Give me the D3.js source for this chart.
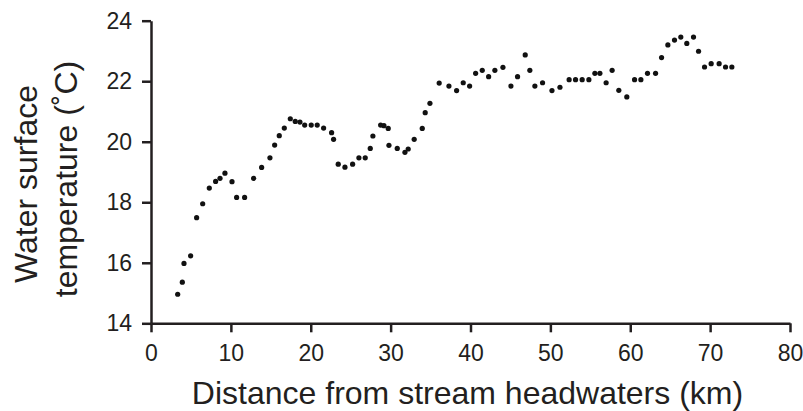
<!DOCTYPE html>
<html>
<head>
<meta charset="utf-8">
<script src="https://cdnjs.cloudflare.com/ajax/libs/d3/7.8.5/d3.min.js"></script>
<style>
  body { margin: 0; background: #fff; }
  text { font-family: "Liberation Sans", Arial, sans-serif; fill: #231f20; }
</style>
</head>
<body>
<div id="chart"></div>
<script>
// distance along the stream (km)
var distanceKm = [3.34, 3.92, 4.13, 4.96, 5.71, 6.47, 7.30, 8.09, 8.64, 9.26,
  10.14, 10.72, 11.72, 12.85, 13.85, 14.89, 15.48, 16.06, 16.69, 17.44,
  18.06, 18.65, 19.24, 20.06, 20.81, 21.61, 22.61, 22.86, 23.44, 24.28,
  25.24, 26.03, 26.82, 27.45, 27.78, 28.75, 29.16, 29.70, 29.79, 30.83,
  31.79, 32.20, 32.95, 33.96, 34.33, 34.92, 36.08, 37.30, 38.26, 39.09,
  39.89, 40.64, 41.47, 42.27, 43.05, 44.06, 45.06, 45.89, 46.85, 47.43,
  48.06, 49.02, 50.20, 51.20, 52.35, 53.15, 53.98, 54.82, 55.57, 56.20,
  56.98, 57.73, 58.57, 59.57, 60.54, 61.33, 62.16, 63.17, 63.92, 64.71,
  65.54, 66.33, 67.08, 67.92, 68.55, 69.30, 70.13, 71.13, 71.93, 72.72];

// water surface temperature (deg C)
var tempC = [14.96, 15.36, 15.98, 16.23, 17.49, 17.95, 18.47, 18.69, 18.79, 18.96,
  18.68, 18.16, 18.16, 18.79, 19.15, 19.47, 19.89, 20.20, 20.45, 20.76,
  20.67, 20.65, 20.55, 20.55, 20.55, 20.45, 20.30, 20.08, 19.26, 19.16,
  19.26, 19.47, 19.47, 19.78, 20.19, 20.55, 20.53, 20.44, 19.88, 19.78,
  19.65, 19.76, 20.08, 20.44, 20.96, 21.27, 21.94, 21.84, 21.69, 21.95,
  21.84, 22.26, 22.36, 22.15, 22.36, 22.46, 21.84, 22.15, 22.87, 22.36,
  21.84, 21.95, 21.69, 21.80, 22.05, 22.05, 22.05, 22.05, 22.26, 22.26,
  21.95, 22.36, 21.70, 21.48, 22.05, 22.05, 22.26, 22.26, 22.78, 23.20,
  23.36, 23.46, 23.25, 23.46, 22.99, 22.47, 22.58, 22.58, 22.47, 22.47];

var xTicks = [0, 10, 20, 30, 40, 50, 60, 70, 80];
var yTicks = [14, 16, 18, 20, 22, 24];

var W = 803, H = 411;
var x0 = 151, x1 = 790, yTop = 20.7, yBot = 323.3;

var svg = d3.select("#chart").append("svg")
  .attr("width", W)
  .attr("height", H);

var xScale = d3.scaleLinear().domain([0, 80]).range([x0, x1]);
var yScale = d3.scaleLinear().domain([14, 24]).range([yBot, yTop]);

var pts = distanceKm.map(function(d, i) { return {km: d, t: tempC[i]}; });

svg.append("g")
  .selectAll("circle")
  .data(pts)
  .enter().append("circle")
  .attr("cx", function(d) { return xScale(d.km); })
  .attr("cy", function(d) { return yScale(d.t); })
  .attr("r", 2.6)
  .attr("fill", "#111");

var xAxis = d3.axisBottom(xScale).tickValues(xTicks).tickSizeInner(9).tickSizeOuter(0).tickPadding(12);
var yAxis = d3.axisLeft(yScale).tickValues(yTicks).tickSizeInner(9).tickSizeOuter(0).tickPadding(10);

var gx = svg.append("g")
  .attr("transform", "translate(0," + yBot + ")")
  .call(xAxis);
var gy = svg.append("g")
  .attr("transform", "translate(" + x0 + ",0)")
  .call(yAxis);

[gx, gy].forEach(function(g) {
  g.select(".domain").attr("stroke", "#231f20").attr("stroke-width", 2.5);
  g.selectAll(".tick line").attr("stroke", "#231f20").attr("stroke-width", 2.5);
  g.selectAll(".tick text").attr("font-size", 23).attr("fill", "#231f20")
    .style("font-family", "'Liberation Sans', Arial, sans-serif");
});

// axis titles
svg.append("text")
  .attr("x", 467.5)
  .attr("y", 404)
  .attr("text-anchor", "middle")
  .attr("font-size", 32)
  .text("Distance from stream headwaters (km)");

svg.append("text")
  .attr("transform", "translate(37,184) rotate(-90)")
  .attr("text-anchor", "middle")
  .attr("font-size", 32)
  .text("Water surface");

svg.append("text")
  .attr("transform", "translate(77,179) rotate(-90)")
  .attr("text-anchor", "middle")
  .attr("font-size", 32)
  .text("temperature (\u02daC)");
</script>
</body>
</html>
